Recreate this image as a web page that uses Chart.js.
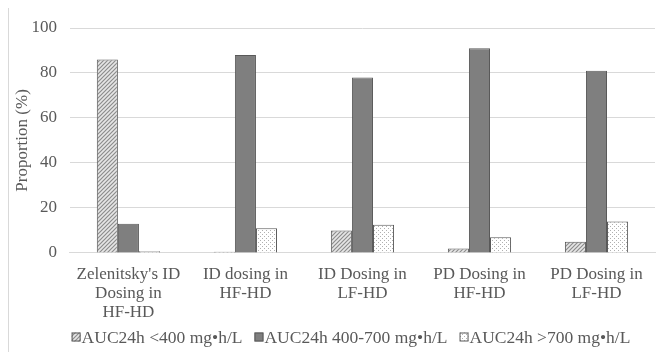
<!DOCTYPE html>
<html>
<head>
<meta charset="utf-8">
<script src="https://cdn.jsdelivr.net/npm/chart.js@4.4.1/dist/chart.umd.min.js"></script>
<style>
  html, body { margin: 0; padding: 0; background: #fff; }
  #wrap { position: absolute; left: 0; top: 0; width: 660px; height: 352px; }
  #frame { position: absolute; left: 8px; top: 8px; width: 1px; height: 344px; background: #d9d9d9; }
</style>
</head>
<body>
<div id="wrap">
  <div id="frame"></div>
  <canvas id="chart" width="660" height="352"></canvas>
</div>
<script>
const categories = [
    ["Zelenitsky's ID", "Dosing in", "HF-HD"],
    ["ID dosing in", "HF-HD"],
    ["ID Dosing in", "LF-HD"],
    ["PD Dosing in", "HF-HD"],
    ["PD Dosing in", "LF-HD"]
];
const seriesNames = ["AUC24h <400 mg•h/L", "AUC24h 400-700 mg•h/L", "AUC24h >700 mg•h/L"];
const lowValues = [86, 0.5, 10, 2, 5];
const midValues = [13, 88, 78, 91, 81];
const highValues = [0.7, 11, 12.5, 7, 14];
const yTicks = [0, 20, 40, 60, 80, 100];

const FONT = 'Liberation Serif';
const TEXT = '#595959';

function hatchPattern() {
    const c = document.createElement('canvas');
    c.width = 4; c.height = 4;
    const g = c.getContext('2d');
    g.fillStyle = '#e6e6e6';
    g.fillRect(0, 0, 4, 4);
    g.strokeStyle = '#8c8c8c';
    g.lineWidth = 1.2;
    g.beginPath();
    g.moveTo(-1, 5); g.lineTo(5, -1);
    g.moveTo(-1, 1); g.lineTo(1, -1);
    g.moveTo(3, 5); g.lineTo(5, 3);
    g.stroke();
    return g.createPattern(c, 'repeat');
}

function dotPattern() {
    const c = document.createElement('canvas');
    c.width = 4; c.height = 4;
    const g = c.getContext('2d');
    g.fillStyle = '#ffffff';
    g.fillRect(0, 0, 4, 4);
    g.fillStyle = '#b0b0b0';
    g.fillRect(0, 0, 1, 1);
    g.fillRect(2, 2, 1, 1);
    return g.createPattern(c, 'repeat');
}

// legend drawn under the axis labels, boxes sit close to their text like in Excel
const bottomLegend = {
    id: 'bottomLegend',
    afterDraw(chart) {
        const c = chart.ctx;
        const sets = chart.data.datasets;
        const y = chart.height - 15;
        const gap = 12;
        c.save();
        c.font = '17.5px "' + FONT + '"';
        c.textBaseline = 'middle';
        let total = 0;
        const widths = sets.map(ds => c.measureText(ds.label).width);
        widths.forEach(w => { total += 10 + w; });
        total += gap * (sets.length - 1);
        let x = 351 - total / 2;
        sets.forEach((ds, i) => {
            c.fillStyle = ds.backgroundColor;
            c.fillRect(x, y - 4.5, 9, 9);
            c.strokeStyle = ds.borderColor;
            c.lineWidth = 1;
            c.strokeRect(x + 0.5, y - 4, 8, 8);
            c.fillStyle = TEXT;
            c.fillText(ds.label, x + 10, y + 1);
            x += 10 + widths[i] + gap;
        });
        c.restore();
    }
};

const ctx = document.getElementById('chart').getContext('2d');
new Chart(ctx, {
    type: 'bar',
    data: {
        labels: categories,
        datasets: [
            { label: seriesNames[0], data: lowValues, backgroundColor: hatchPattern(), borderColor: '#595959', borderWidth: 1 },
            { label: seriesNames[1], data: midValues, backgroundColor: '#7f7f7f', borderColor: '#595959', borderWidth: 1 },
            { label: seriesNames[2], data: highValues, backgroundColor: dotPattern(), borderColor: '#595959', borderWidth: 1 }
        ]
    },
    plugins: [bottomLegend],
    options: {
        responsive: false,
        animation: false,
        layout: { padding: { left: 0, right: 5, top: 28, bottom: 26 } },
        datasets: { bar: { barPercentage: 1, categoryPercentage: 0.54 } },
        plugins: {
            tooltip: { enabled: false },
            legend: { display: false }
        },
        scales: {
            x: {
                grid: { display: false },
                border: { color: '#d9d9d9' },
                ticks: {
                    font: { family: FONT, size: 17, lineHeight: 1.12 },
                    color: TEXT,
                    maxRotation: 0,
                    padding: 4
                }
            },
            y: {
                min: 0,
                max: 100,
                afterBuildTicks: axis => { axis.ticks = yTicks.map(v => ({ value: v })); },
                grid: { color: '#d9d9d9', drawTicks: false },
                border: { display: false },
                ticks: {
                    font: { family: FONT, size: 17 },
                    color: TEXT,
                    padding: 13
                },
                title: {
                    display: true,
                    text: 'Proportion (%)',
                    font: { family: FONT, size: 17 },
                    color: TEXT,
                    padding: { top: 12, bottom: -14 }
                }
            }
        }
    }
});
</script>
</body>
</html>
